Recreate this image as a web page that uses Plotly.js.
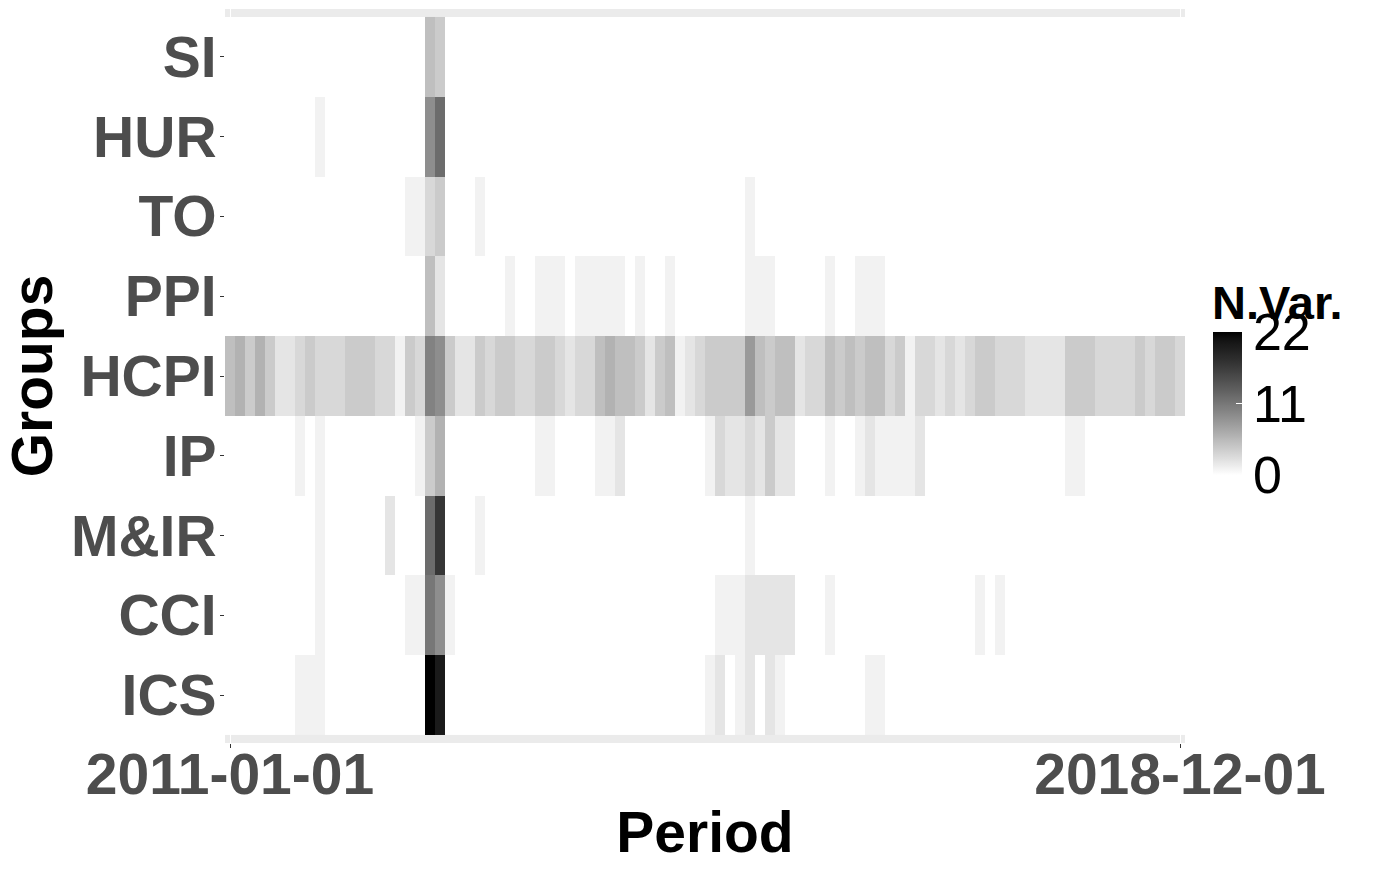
<!DOCTYPE html>
<html>
<head>
<meta charset="utf-8">
<script src="https://cdn.plot.ly/plotly-3.0.1.min.js"></script>
<style>
  html, body { margin: 0; padding: 0; background: #ffffff; }
  #chart { width: 1375px; height: 875px; }
</style>
</head>
<body>
<div id="chart"></div>
<script>
// Groups, bottom to top
const groups = ["ICS", "CCI", "M&IR", "IP", "HCPI", "PPI", "TO", "HUR", "SI"];

// First and last period labels shown on the x axis
const firstPeriod = "2011-01-01";
const lastPeriod = "2018-12-01";
const tickLabels = [firstPeriod, lastPeriod];

// Monthly periods 2011-01 .. 2018-12 (96 categories)
const periods = [];
for (let yr = 2011; yr <= 2018; yr++) {
  for (let m = 1; m <= 12; m++) {
    periods.push(yr + "-" + (m < 10 ? "0" + m : m) + "-01");
  }
}

// Number of variables per group and month
const SI = [0,0,0,0,0,0,0,0,0,0, 0,0,0,0,0,0,0,0,0,0, 5,4,0,0,0,0,0,0,0,0, 0,0,0,0,0,0,0,0,0,0, 0,0,0,0,0,0,0,0,0,0, 0,0,0,0,0,0,0,0,0,0, 0,0,0,0,0,0,0,0,0,0, 0,0,0,0,0,0,0,0,0,0, 0,0,0,0,0,0,0,0,0,0, 0,0,0,0,0,0];
const HUR = [0,0,0,0,0,0,0,0,0,1, 0,0,0,0,0,0,0,0,0,0, 9,12,0,0,0,0,0,0,0,0, 0,0,0,0,0,0,0,0,0,0, 0,0,0,0,0,0,0,0,0,0, 0,0,0,0,0,0,0,0,0,0, 0,0,0,0,0,0,0,0,0,0, 0,0,0,0,0,0,0,0,0,0, 0,0,0,0,0,0,0,0,0,0, 0,0,0,0,0,0];
const TO = [0,0,0,0,0,0,0,0,0,0, 0,0,0,0,0,0,0,0,1,1, 3,4,0,0,0,1,0,0,0,0, 0,0,0,0,0,0,0,0,0,0, 0,0,0,0,0,0,0,0,0,0, 0,0,1,0,0,0,0,0,0,0, 0,0,0,0,0,0,0,0,0,0, 0,0,0,0,0,0,0,0,0,0, 0,0,0,0,0,0,0,0,0,0, 0,0,0,0,0,0];
const PPI = [0,0,0,0,0,0,0,0,0,0, 0,0,0,0,0,0,0,0,0,0, 5,2,0,0,0,0,0,0,1,0, 0,1,1,1,0,1,1,1,1,1, 0,1,0,0,1,0,0,0,0,0, 0,0,1,1,1,0,0,0,0,0, 1,0,0,1,1,1,0,0,0,0, 0,0,0,0,0,0,0,0,0,0, 0,0,0,0,0,0,0,0,0,0, 0,0,0,0,0,0];
const HCPI = [5,6,4,6,4,2,2,3,4,3, 3,3,4,4,4,3,3,1,4,3, 10,9,4,2,2,4,3,4,4,3, 3,4,4,3,2,3,3,5,6,5, 5,4,2,4,5,1,2,3,4,4, 4,4,8,5,4,5,5,2,3,3, 5,4,5,4,5,5,3,4,1,3, 3,2,3,2,3,4,4,3,3,3, 2,2,2,2,4,4,4,3,3,3, 3,4,3,4,4,3];
const IP = [0,0,0,0,0,0,0,1,0,1, 0,0,0,0,0,0,0,0,0,1, 4,6,0,0,0,0,0,0,0,0, 0,1,1,0,0,0,0,1,1,2, 0,0,0,0,0,0,0,0,1,3, 2,2,3,2,4,2,2,0,0,0, 1,0,0,1,2,1,1,1,1,2, 0,0,0,0,0,0,0,0,0,0, 0,0,0,0,1,1,0,0,0,0, 0,0,0,0,0,0];
const MIR = [0,0,0,0,0,0,0,0,0,1, 0,0,0,0,0,0,2,0,0,0, 12,17,0,0,0,1,0,0,0,0, 0,0,0,0,0,0,0,0,0,0, 0,0,0,0,0,0,0,0,0,0, 0,0,1,0,0,0,0,0,0,0, 0,0,0,0,0,0,0,0,0,0, 0,0,0,0,0,0,0,0,0,0, 0,0,0,0,0,0,0,0,0,0, 0,0,0,0,0,0];
const CCI = [0,0,0,0,0,0,0,0,0,1, 0,0,0,0,0,0,0,0,1,1, 11,9,1,0,0,0,0,0,0,0, 0,0,0,0,0,0,0,0,0,0, 0,0,0,0,0,0,0,0,0,1, 1,1,2,2,2,2,2,0,0,0, 1,0,0,0,0,0,0,0,0,0, 0,0,0,0,0,1,0,1,0,0, 0,0,0,0,0,0,0,0,0,0, 0,0,0,0,0,0];
const ICS = [0,0,0,0,0,0,0,1,1,1, 0,0,0,0,0,0,0,0,0,0, 22,20,0,0,0,0,0,0,0,0, 0,0,0,0,0,0,0,0,0,0, 0,0,0,0,0,0,0,0,1,2, 0,1,2,0,2,1,0,0,0,0, 0,0,0,0,1,1,0,0,0,0, 0,0,0,0,0,0,0,0,0,0, 0,0,0,0,0,0,0,0,0,0, 0,0,0,0,0,0];

const zRows = [ICS, CCI, MIR, IP, HCPI, PPI, TO, HUR, SI];
const zMin = 0, zMax = 22;
const scaleTicks = [0, 11, 22];
const legendTitle = "N.Var.";

// white -> black gradient interpolated in Lab lightness (as ggplot does)
function labGray(L) {
  const f = (L + 16) / 116;
  const Y = L > 8 ? f * f * f : L / 903.3;
  const c = Y <= 0.0031308 ? 12.92 * Y : 1.055 * Math.pow(Y, 1 / 2.4) - 0.055;
  const g = Math.max(0, Math.min(255, Math.round(c * 255)));
  return "rgb(" + g + "," + g + "," + g + ")";
}
const colorscale = [];
const nStops = 44;
for (let i = 0; i <= nStops; i++) {
  const t = i / nStops;
  colorscale.push([t, labGray(100 * (1 - t))]);
}

const FONT = "Liberation Sans, Arial, Helvetica, sans-serif";

// plot area in pixels: x 225..1185, y 9..743
const trace = {
  type: "heatmap",
  x: periods,
  y: groups,
  z: zRows,
  zmin: zMin,
  zmax: zMax,
  colorscale: colorscale,
  xgap: 0,
  ygap: 0,
  hoverongaps: false,
  colorbar: {
    thickness: 29,
    thicknessmode: "pixels",
    len: 143,
    lenmode: "pixels",
    xref: "paper",
    yref: "paper",
    x: (1213 - 225) / 960,
    xanchor: "left",
    y: 1 - (332 - 9) / 734,
    yanchor: "top",
    xpad: 0,
    ypad: 0,
    outlinewidth: 0,
    tickmode: "array",
    tickvals: scaleTicks,
    ticktext: scaleTicks.map(String),
    ticks: "inside",
    ticklen: 6,
    tickcolor: "#ffffff",
    tickwidth: 1,
    ticklabelposition: "outside",
    tickfont: { family: FONT, size: 52, color: "#000000" }
  }
};

const layout = {
  width: 1375,
  height: 875,
  margin: { l: 225, r: 190, t: 9, b: 132, pad: 0 },
  paper_bgcolor: "#ffffff",
  plot_bgcolor: "#EBEBEB",
  showlegend: false,
  xaxis: {
    type: "category",
    range: [-0.5, 95.5],
    tickmode: "array",
    tickvals: tickLabels,
    ticktext: tickLabels,
    ticks: "outside",
    ticklen: 4,
    tickwidth: 1,
    tickcolor: "#333333",
    showgrid: true,
    gridcolor: "#ffffff",
    gridwidth: 1,
    zeroline: false,
    showline: false,
    automargin: false,
    tickangle: 0,
    ticklabelstandoff: -22,
    tickfont: { family: FONT, size: 57, color: "#4D4D4D", weight: "bold" },
    title: { text: "Period", standoff: 6, font: { family: FONT, size: 57, color: "#000000", weight: "bold" } }
  },
  yaxis: {
    type: "category",
    range: [-0.6, 8.6],
    ticks: "outside",
    ticklen: 4,
    tickwidth: 1,
    tickcolor: "#333333",
    showgrid: true,
    gridcolor: "#ffffff",
    gridwidth: 1,
    zeroline: false,
    showline: false,
    automargin: false,
    ticklabelstandoff: -8,
    tickfont: { family: FONT, size: 57, color: "#4D4D4D", weight: "bold" },
    title: { text: "Groups", standoff: 10, font: { family: FONT, size: 57, color: "#000000", weight: "bold" } }
  },
  annotations: [{
    text: legendTitle,
    xref: "paper", yref: "paper",
    x: (1211 - 225) / 960,
    y: 1 - (318 - 9) / 734,
    xanchor: "left",
    yanchor: "bottom",
    showarrow: false,
    borderpad: 0,
    yshift: -12,
    font: { family: FONT, size: 47, color: "#000000", weight: "bold" }
  }]
};

Plotly.newPlot("chart", [trace], layout, { displayModeBar: false, staticPlot: true });
</script>
</body>
</html>
